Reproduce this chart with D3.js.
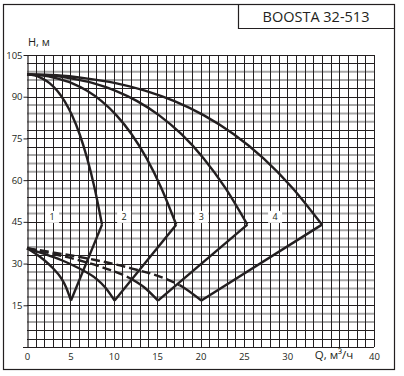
<!DOCTYPE html>
<html>
<head>
<meta charset="utf-8">
<script src="https://cdn.jsdelivr.net/npm/d3@7"></script>
<style>
  html, body { margin: 0; padding: 0; background: #fff; }
  text { font-family: "Open Sans", "DejaVu Sans", sans-serif; fill: #231f20; }
</style>
</head>
<body>
<div id="chart"></div>
<script>
// Pump curves for 1..4 pumps working together
const topQ = [
  [0, 0.87, 1.73, 2.6, 3.46, 4.33, 5.19, 6.06, 6.92, 7.79, 8.65],
  [0, 1.72, 3.44, 5.16, 6.88, 8.6, 10.32, 12.04, 13.76, 15.48, 17.2],
  [0, 2.54, 5.08, 7.62, 10.16, 12.7, 15.24, 17.78, 20.32, 22.86, 25.4],
  [0, 3.4, 6.8, 10.2, 13.6, 17, 20.4, 23.8, 27.2, 30.6, 34]
];
const topH = [
  [98, 97.7, 96.6, 94.9, 92.2, 88.4, 83.3, 76.6, 68, 57.2, 44],
  [98, 97.7, 96.6, 94.9, 92.2, 88.4, 83.3, 76.6, 68, 57.2, 44],
  [98, 97.7, 96.6, 94.9, 92.2, 88.4, 83.3, 76.6, 68, 57.2, 44],
  [98, 97.7, 96.6, 94.9, 92.2, 88.4, 83.3, 76.6, 68, 57.2, 44]
];
// lower boundary (from shut-off point down to the minimum point)
const lowQ = [
  [0, 1, 2, 3, 4, 4.5, 5.07],
  [0, 2, 4, 6, 8, 9, 10.1],
  [0, 3, 6, 9, 12, 13.5, 15.1],
  [0, 4, 8, 12, 16, 18, 20.1]
];
const lowH = [
  [35.5, 33.5, 31.2, 28.3, 24.5, 21.5, 16.7],
  [35.5, 33.5, 31.2, 28.3, 24.5, 21.5, 16.7],
  [35.5, 33.5, 31.2, 28.3, 24.5, 21.5, 16.7],
  [35.5, 33.5, 31.2, 28.3, 24.5, 21.5, 16.7]
];
// lower boundary is dashed up to this flow (null = solid all along)
const dashTo = [null, null, 12.2, 17.6];

const curveNames = ['1', '2', '3', '4'];
const labelQ = [2.9, 11.2, 20.1, 28.6];
const labelH = 46.8;

const xTicks = [0, 5, 10, 15, 20, 25, 30, 40];
const yTicks = [0, 15, 30, 45, 60, 75, 90, 105];
const grayRows = [99, 96, 87, 84, 81, 69, 66, 63, 57, 51, 48, 42, 39, 36, 27, 24, 21, 18, 12, 9];

const W = 404, H = 376;
const svg = d3.select('#chart').append('svg')
  .attr('width', W).attr('height', H);

const x = d3.scaleLinear().domain([0, 40]).range([27, 374]);
const y = d3.scaleLinear().domain([0, 105]).range([347, 55]);
const px = v => Math.round(v) + 0.5;

// frame + title box
svg.append('rect').attr('x', 3.5).attr('y', 4.5).attr('width', 391).attr('height', 365)
  .attr('fill', 'none').attr('stroke', '#231f20').attr('stroke-width', 1.2);
svg.append('path').attr('d', 'M238.5,4.5V28.5H394.5')
  .attr('fill', 'none').attr('stroke', '#231f20').attr('stroke-width', 1.2);
svg.append('text').attr('x', 316).attr('y', 22).attr('text-anchor', 'middle')
  .style('font-size', '14.5px').text('BOOSTA 32-513');

// grid
const grid = svg.append('g');
grid.selectAll('.hg').data(d3.range(3, 106, 3)).enter().append('line')
  .attr('x1', x(0)).attr('x2', x(40))
  .attr('y1', d => grayRows.includes(d) ? y(d) : px(y(d)))
  .attr('y2', d => grayRows.includes(d) ? y(d) : px(y(d)))
  .attr('stroke', d => grayRows.includes(d) ? '#a7a7a7' : '#231f20')
  .attr('stroke-width', d => grayRows.includes(d) ? 2 : 1);
grid.selectAll('.vg').data(d3.range(1, 41)).enter().append('line')
  .attr('x1', d => px(x(d))).attr('x2', d => px(x(d)))
  .attr('y1', y(0)).attr('y2', y(105))
  .attr('stroke', '#231f20').attr('stroke-width', 1);

// axes
const ya = svg.append('g').attr('transform', `translate(${px(x(0))},0)`)
  .call(d3.axisLeft(y).tickValues(yTicks.filter(d => d > 0)).tickSize(4).tickSizeOuter(0));
ya.select('.domain').attr('stroke', '#231f20').attr('stroke-width', 1.2);
ya.selectAll('.tick line').attr('stroke', '#231f20');
ya.selectAll('.tick text').attr('x', -5).style('font-size', '9.5px')
  .style('font-family', '"Open Sans", sans-serif').attr('fill', '#231f20');

const xa = svg.append('g').attr('transform', `translate(0,${px(y(0))})`)
  .call(d3.axisBottom(x).tickValues(xTicks).tickSize(0).tickPadding(6).tickSizeOuter(0));
xa.select('.domain').attr('stroke', '#231f20').attr('stroke-width', 1.2)
  .attr('d', `M${x(0) - 4},0H${x(40)}`);
xa.selectAll('.tick text').style('font-size', '9.5px')
  .style('font-family', '"Open Sans", sans-serif').attr('fill', '#231f20');

svg.append('text').attr('x', 28).attr('y', 46).style('font-size', '11px').text('H, м');
svg.append('text').attr('x', 334).attr('y', 359).attr('text-anchor', 'middle')
  .style('font-size', '11.5px').text('Q, м³/ч');

// curves
const line = d3.line().x(d => x(d[0])).y(d => y(d[1])).curve(d3.curveMonotoneX);
const curves = svg.append('g').attr('fill', 'none').attr('stroke', '#231f20')
  .attr('stroke-width', 2.4).attr('stroke-linejoin', 'round');

const defs = svg.append('defs');
curveNames.forEach((name, i) => {
  const top = topQ[i].map((q, j) => [q, topH[i][j]]);
  const low = lowQ[i].map((q, j) => [q, lowH[i][j]]);
  curves.append('path').attr('d', line(top));
  // right edge: minimum point up to the end of the pump curve
  curves.append('path').attr('d', d3.line().x(d => x(d[0])).y(d => y(d[1]))([low[low.length - 1], top[top.length - 1]]));
  if (dashTo[i] == null) {
    curves.append('path').attr('d', line(low));
  } else {
    defs.append('clipPath').attr('id', 'cl' + i).append('rect')
      .attr('x', x(dashTo[i])).attr('y', 0).attr('width', W).attr('height', H);
    defs.append('clipPath').attr('id', 'cd' + i).append('rect')
      .attr('x', 0).attr('y', 0).attr('width', x(dashTo[i])).attr('height', H);
    curves.append('path').attr('d', line(low)).attr('stroke-dasharray', '9,4')
      .attr('clip-path', `url(#cd${i})`);
    curves.append('path').attr('d', line(low)).attr('clip-path', `url(#cl${i})`);
  }
});

// curve numbers
const lab = svg.append('g');
curveNames.forEach((name, i) => {
  lab.append('rect').attr('x', x(labelQ[i]) - 7).attr('y', y(labelH) - 6)
    .attr('width', 14).attr('height', 12).attr('fill', '#fff');
  lab.append('text').attr('x', x(labelQ[i])).attr('y', y(labelH) + 3.5)
    .attr('text-anchor', 'middle').style('font-size', '9px').attr('fill', '#3a3a5a').text(name);
});
</script>
</body>
</html>
